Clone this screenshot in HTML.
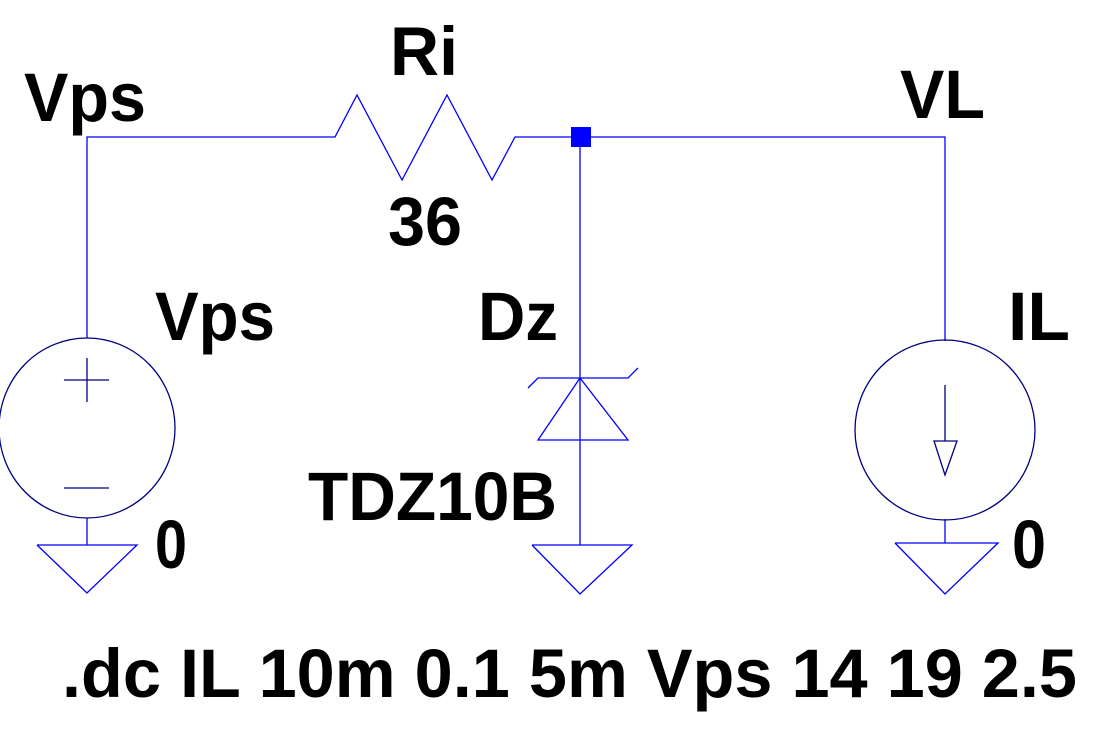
<!DOCTYPE html>
<html><head><style>
html,body{margin:0;padding:0;background:#fff;}
svg{display:block;}
text{font-family:"Liberation Sans",Arial,sans-serif;font-weight:bold;fill:#000;font-size:69px;}
</style></head><body>
<svg width="1107" height="736" viewBox="0 0 1107 736" xmlns="http://www.w3.org/2000/svg">
<g fill="none" stroke="#0000ff" stroke-width="1.3">
<polyline points="87,338 87,137 335,137 357,95 402,180 447,95 492,180 515,137 945,137 945,341"/>
<line x1="580" y1="137" x2="580" y2="545"/>
<polyline points="528,388 538,378 628,378 638,368"/>
<polygon points="580,378 538,440 628,440"/>
<polyline points="37,545 137,545 87,593 37,545"/>
<polyline points="532,545 632,545 580,594 532,545"/>
<polyline points="895,543 998,543 945,594 895,543"/>
<line x1="87" y1="518" x2="87" y2="545"/>
<line x1="945" y1="519" x2="945" y2="543"/>
</g>
<g fill="none" stroke="#000080" stroke-width="1.3">
<ellipse cx="87" cy="428" rx="88" ry="90"/>
<line x1="64" y1="380" x2="109" y2="380"/>
<line x1="87" y1="358" x2="87" y2="402"/>
<line x1="64" y1="488" x2="109" y2="488"/>
<circle cx="945" cy="430" r="90"/>
<line x1="945" y1="385" x2="945" y2="441"/>
<polygon points="934,441 957,441 945,475"/>
</g>
<rect x="571" y="127" width="20" height="20" fill="#0000ff"/>
<text x="24" y="121" textLength="122" lengthAdjust="spacingAndGlyphs">Vps</text>
<text x="390" y="75" textLength="68" lengthAdjust="spacingAndGlyphs">Ri</text>
<text x="900" y="118" textLength="85" lengthAdjust="spacingAndGlyphs">VL</text>
<text x="388" y="245" textLength="74" lengthAdjust="spacingAndGlyphs">36</text>
<text x="155" y="340" textLength="120" lengthAdjust="spacingAndGlyphs">Vps</text>
<text x="478" y="340" textLength="80" lengthAdjust="spacingAndGlyphs">Dz</text>
<text x="1008" y="340" textLength="62" lengthAdjust="spacingAndGlyphs">IL</text>
<text x="308" y="520" textLength="249" lengthAdjust="spacingAndGlyphs">TDZ10B</text>
<text x="155" y="568" textLength="32" lengthAdjust="spacingAndGlyphs">0</text>
<text x="1012" y="568" textLength="34" lengthAdjust="spacingAndGlyphs">0</text>
<text x="62" y="697" textLength="1015" lengthAdjust="spacingAndGlyphs">.dc IL 10m 0.1 5m Vps 14 19 2.5</text>
</svg>
</body></html>
